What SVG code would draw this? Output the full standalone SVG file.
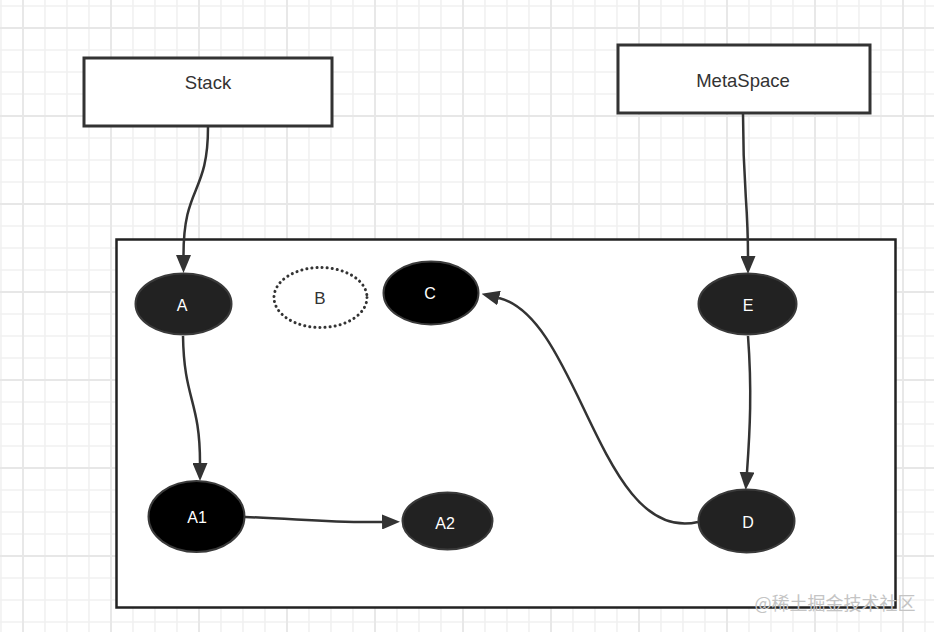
<svg xmlns="http://www.w3.org/2000/svg" width="934" height="632" viewBox="0 0 934 632">
  <defs>
    <pattern id="minor" patternUnits="userSpaceOnUse" x="0" y="5" width="22" height="22">
      <path d="M1,0 V22 M0,1 H22" stroke="#f1f1f1" stroke-width="1.6" fill="none"/>
    </pattern>
    <pattern id="major" patternUnits="userSpaceOnUse" x="22" y="27" width="88" height="88">
      <path d="M1,0 V88 M0,1 H88" stroke="#e7e7e7" stroke-width="1.8" fill="none"/>
    </pattern>
    <marker id="arrow" markerUnits="userSpaceOnUse" markerWidth="18" markerHeight="15" viewBox="0 0 18 15" refX="0" refY="7.5" orient="auto">
      <path d="M0,0 L18,7.5 L0,15 z" fill="#333333"/>
    </marker>
  </defs>
  <style>
    .box { fill: #ffffff; stroke: #333333; stroke-width: 3; }
    .node { stroke: #3a3a3a; stroke-width: 2; }
    .dark { fill: #222222; }
    .black { fill: #000000; }
    .lbl { font-family: "Liberation Sans", Arial, sans-serif; font-size: 17px; text-anchor: middle; dominant-baseline: central; }
    .big { font-size: 18.5px; }
    .wl { fill: #ffffff; font-size: 16px; }
    .bl { fill: #333333; }
    .edge { fill: none; stroke: #333333; stroke-width: 2.5; marker-end: url(#arrow); }
  </style>

  <rect x="0" y="0" width="934" height="632" fill="#ffffff"/>
  <rect x="0" y="0" width="934" height="632" fill="url(#minor)"/>
  <rect x="0" y="0" width="934" height="632" fill="url(#major)"/>

  <g id="container">
    <rect x="116.5" y="239.5" width="779" height="368" fill="#ffffff" stroke="#222222" stroke-width="2.5"/>
  </g>

  <g id="stack">
    <rect class="box" x="84" y="58" width="248" height="68"/>
    <text class="lbl big bl" x="208" y="82">Stack</text>
  </g>
  <g id="metaspace">
    <rect class="box" x="618" y="45" width="252" height="68"/>
    <text class="lbl big bl" x="743" y="80">MetaSpace</text>
  </g>

  <g id="nodeA">
    <ellipse class="node dark" cx="183.5" cy="304" rx="48" ry="30.5"/>
    <text class="lbl wl" x="182" y="305">A</text>
  </g>
  <g id="nodeB">
    <ellipse cx="320.5" cy="297.5" rx="46.5" ry="30" fill="none" stroke="#333333" stroke-width="3" stroke-dasharray="0.1 5" stroke-linecap="round"/>
    <text class="lbl bl" x="320" y="298">B</text>
  </g>
  <g id="nodeC">
    <ellipse class="node black" cx="431" cy="293" rx="47.5" ry="31.5"/>
    <text class="lbl wl" x="430" y="293">C</text>
  </g>
  <g id="nodeE">
    <ellipse class="node dark" cx="747.5" cy="304" rx="49" ry="30.5"/>
    <text class="lbl wl" x="748" y="305">E</text>
  </g>
  <g id="nodeD">
    <ellipse class="node dark" cx="746.5" cy="521" rx="48" ry="31.5"/>
    <text class="lbl wl" x="748" y="522">D</text>
  </g>
  <g id="nodeA1">
    <ellipse class="node black" cx="196.5" cy="516.5" rx="48" ry="35.5"/>
    <text class="lbl wl" x="197" y="517">A1</text>
  </g>
  <g id="nodeA2">
    <ellipse class="node dark" cx="447.5" cy="521" rx="45" ry="28.5"/>
    <text class="lbl wl" x="445" y="523">A2</text>
  </g>

  <g id="connectors">
    <path class="edge" d="M208,127 C208,195 183.5,185 183.5,255"/>
    <path class="edge" d="M183,336 C184,400 200,400 200,463"/>
    <path class="edge" d="M245,517 C300,519 330,523 382,522"/>
    <path class="edge" d="M743,114 C743,190 748,200 748,256"/>
    <path class="edge" d="M748,336 C752,390 750,430 747,472"/>
    <path class="edge" d="M698,522 C600,545 580,318 499,298"/>
  </g>

  <text x="835" y="602" font-family="'Noto Sans CJK SC', 'Liberation Sans', sans-serif" font-size="18" fill="#c4c4c4" text-anchor="middle" dominant-baseline="central">@稀土掘金技术社区</text>
</svg>
